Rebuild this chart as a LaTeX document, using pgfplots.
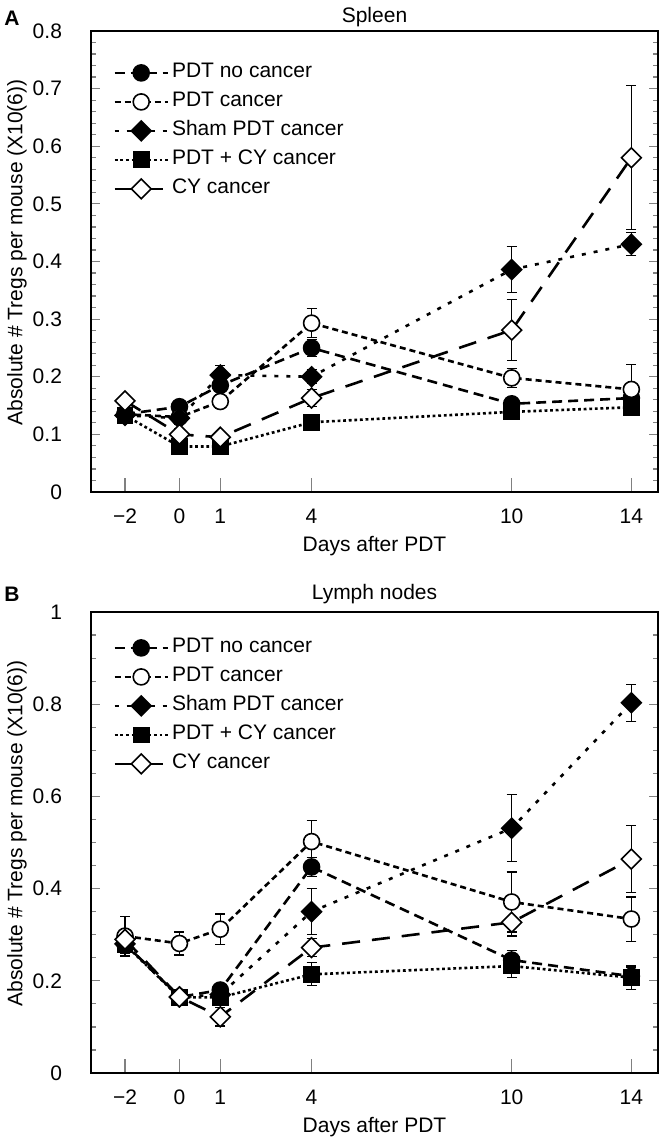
\documentclass[border=0pt]{standalone}
\usepackage{fontspec}
\setmainfont{Liberation Sans}
\usepackage{pgfplots}
\pgfplotsset{compat=1.18}
\newcommand{\fs}{\fontsize{10.5}{12.6}\selectfont}
\pgfplotsset{
  panel/.style={
    width=283.5pt, height=230.5pt, scale only axis,
    anchor=north west,
    xmin=0, xmax=100,
    xtick={6.0,15.6,22.8,38.9,74.2,95.3},
    xticklabels={−2,0,1,4,10,14},
    xtick pos=bottom, ytick pos=both, tick align=inside,
    xtick style={line width=0.7pt,/pgfplots/major tick length=7pt},
    ytick style={line width=0.6pt},
    major tick length=4.5pt, minor tick length=2.5pt,
    axis line style={line width=1pt},
    /pgf/number format/assume math mode=true,
    tick label style={font=\fs},
    label style={font=\fs},
    xticklabel style={yshift=-5pt},
    yticklabel style={xshift=-11pt},
    xlabel={Days after PDT},
    ylabel={Absolute \# Tregs per mouse (X10(6))},
    xlabel style={at={(axis description cs:0.5,-0.117)}, anchor=center},
    ylabel style={at={(axis description cs:-0.1305,0.52)}, anchor=center},
    legend cell align=left,
    legend style={draw=none, fill=none, font=\fs, inner sep=0pt,
      at={(axis description cs:0,1)}, anchor=north west,
      row sep=0pt,
      nodes={inner sep=1.5pt, text height=8pt, text depth=3.5pt},
      /tikz/every even column/.append style={column sep=6pt}},
    legend image code/.code={
      \draw[mark repeat=2,mark phase=2,##1] plot coordinates {(0pt,0pt)(13.25pt,0pt)(26.5pt,0pt)};
    },
    every axis plot/.append style={line width=1.3pt, black},
    error bars/y dir=both, error bars/y explicit,
    error bars/error bar style={solid, line width=0.6pt},
    error bars/error mark options={rotate=90, mark size=2.5pt, line width=0.6pt, solid},
  },
  snocancer/.style={dash pattern=on 5pt off 3pt, mark=*, mark size=4pt,
    mark options={solid, fill=black, line width=0.8pt}},
  scancer/.style={dash pattern=on 3pt off 2pt, mark=*, mark size=4pt,
    mark options={solid, fill=white, line width=0.8pt}},
  ssham/.style={dash pattern=on 2pt off 4pt, mark=square*, mark size=3.5pt,
    mark options={solid, rotate=45, fill=black, line width=0.8pt}},
  spdtcy/.style={dash pattern=on 1.4pt off 1.4pt, mark=square*, mark size=3.8pt,
    mark options={solid, fill=black, line width=0.8pt}},
  scy/.style={dash pattern=on 9pt off 6pt, mark=square*, mark size=3.5pt,
    mark options={solid, rotate=45, fill=white, line width=0.8pt}},
}
\begin{document}
\begin{tikzpicture}[font=\fs]
\useasboundingbox (0,0) rectangle (335pt,-569.5pt);
\node[font=\fs\bfseries] at (6pt,-9pt) {A};
\node at (187.25pt,-8.5pt) {Spleen};
\begin{axis}[panel, at={(45.5pt,-15.5pt)},
  ymin=0, ymax=0.8, ytick={0,0.1,0.2,0.3,0.4,0.5,0.6,0.7,0.8}, minor y tick num=4,
  legend style={xshift=11pt, yshift=-13.5pt}]
\addplot[snocancer] coordinates {
 (6.0,0.135) +- (0,0.008) (15.6,0.148) +- (0,0.01) (22.8,0.185) +- (0,0.01)
 (38.9,0.250) +- (0,0.015) (74.2,0.153) +- (0,0.01) (95.3,0.163) +- (0,0.012)};
\addlegendentry{PDT no cancer}
\addplot[scancer] coordinates {
 (6.0,0.135) +- (0,0.008) (15.6,0.130) +- (0,0.01) (22.8,0.157) +- (0,0.012)
 (38.9,0.293) +- (0,0.025) (74.2,0.198) +- (0,0.016) (95.3,0.178) +- (0,0.043)};
\addlegendentry{PDT cancer}
\addplot[ssham] coordinates {
 (6.0,0.133) +- (0,0.008) (15.6,0.128) +- (0,0.01) (22.8,0.203) +- (0,0.017)
 (38.9,0.200) +- (0,0.012) (74.2,0.386) +- (0,0.04) (95.3,0.430) +- (0,0.02)};
\addlegendentry{Sham PDT cancer}
\addplot[spdtcy] coordinates {
 (6.0,0.133) +- (0,0.008) (15.6,0.079) +- (0,0.008) (22.8,0.079) +- (0,0.008)
 (38.9,0.121) +- (0,0.008) (74.2,0.139) +- (0,0.01) (95.3,0.147) +- (0,0.01)};
\addlegendentry{PDT + CY cancer}
\addplot[scy] coordinates {
 (6.0,0.158) +- (0,0.01) (15.6,0.100) +- (0,0.01) (22.8,0.095) +- (0,0.008)
 (38.9,0.163) +- (0,0.015) (74.2,0.281) +- (0,0.053) (95.3,0.580) +- (0,0.125)};
\addlegendentry{CY cancer}
\end{axis}
\node[font=\fs\bfseries] at (6pt,-297pt) {B};
\node at (187.25pt,-297pt) {Lymph nodes};
\begin{axis}[panel, at={(45.5pt,-306pt)},
  ymin=0, ymax=1, ytick={0,0.2,0.4,0.6,0.8,1}, minor y tick num=3,
  legend style={xshift=11pt, yshift=-10.5pt}]
\addplot[snocancer] coordinates {
 (6.0,0.280) +- (0,0.02) (15.6,0.165) +- (0,0.015) (22.8,0.180) +- (0,0.015)
 (38.9,0.447) +- (0,0.02) (74.2,0.245) +- (0,0.02) (95.3,0.210) +- (0,0.02)};
\addlegendentry{PDT no cancer}
\addplot[scancer] coordinates {
 (6.0,0.297) +- (0,0.043) (15.6,0.281) +- (0,0.025) (22.8,0.312) +- (0,0.033)
 (38.9,0.502) +- (0,0.045) (74.2,0.371) +- (0,0.065) (95.3,0.334) +- (0,0.048)};
\addlegendentry{PDT cancer}
\addplot[ssham] coordinates {
 (6.0,0.280) +- (0,0.02) (15.6,0.165) +- (0,0.015) (22.8,0.170) +- (0,0.015)
 (38.9,0.350) +- (0,0.05) (74.2,0.531) +- (0,0.073) (95.3,0.803) +- (0,0.04)};
\addlegendentry{Sham PDT cancer}
\addplot[spdtcy] coordinates {
 (6.0,0.279) +- (0,0.02) (15.6,0.164) +- (0,0.015) (22.8,0.164) +- (0,0.015)
 (38.9,0.214) +- (0,0.025) (74.2,0.232) +- (0,0.025) (95.3,0.207) +- (0,0.025)};
\addlegendentry{PDT + CY cancer}
\addplot[scy] coordinates {
 (6.0,0.290) +- (0,0.02) (15.6,0.165) +- (0,0.015) (22.8,0.122) +- (0,0.02)
 (38.9,0.272) +- (0,0.02) (74.2,0.327) +- (0,0.03) (95.3,0.464) +- (0,0.073)};
\addlegendentry{CY cancer}
\end{axis}
\end{tikzpicture}
\end{document}
